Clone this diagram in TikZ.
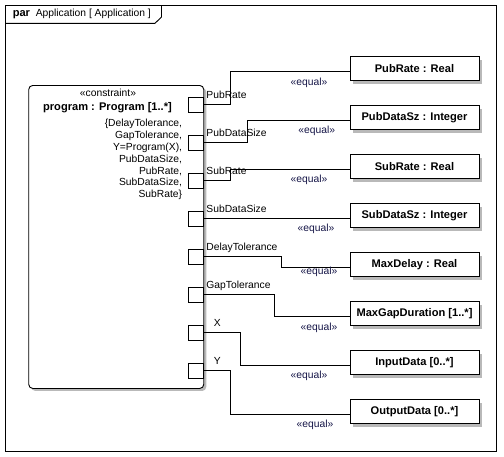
\documentclass[tikz,border=0pt]{standalone}
\usepackage{fontspec}
\setmainfont{Liberation Sans}
\usetikzlibrary{shadows}
\definecolor{eqnavy}{RGB}{20,20,70}
\newcommand{\boldtxt}{\fontsize{11.1}{12}\selectfont\bfseries}
\tikzset{
  cblock/.style={draw, fill=white, rounded corners=4pt, minimum width=175pt, minimum height=303pt, anchor=north west,
    drop shadow={shadow xshift=2.5pt, shadow yshift=-2.5pt, fill=gray!55, opacity=1}},
  port/.style={draw, fill=white, minimum width=15pt, minimum height=15pt, inner sep=0pt},
  plabel/.style={anchor=base west, inner sep=0pt},
  valbox/.style={draw, fill=white, minimum width=129pt, minimum height=24pt, inner sep=0pt, font=\boldtxt,
    drop shadow={shadow xshift=3pt, shadow yshift=-3pt, fill=gray!55, opacity=1}},
  eqlabel/.style={text=eqnavy, inner sep=0pt}
}
\begin{document}
\begin{tikzpicture}[x=1pt, y=-1pt, line width=0.9pt, font=\fontsize{10.3}{11.8}\selectfont]
    \useasboundingbox (0,0) rectangle (504,456);
    % frame
    \draw (5.3,5.3) rectangle (496,451);
    \draw (5.3,23.3) -- (155,23.3) -- (161.5,17) -- (161.5,5.3);
    \node[anchor=west] (title) at (9,14) {{\boldtxt par}\ \ Application [ Application ]};
    % constraint block
    \node[cblock] (prog) at (28.3,85) {};
    \node (stereo) at (108,93) {«constraint»};
    \node[font=\boldtxt] (pname) at (107.5,108) {program : Program [1..*]};
    \node[align=right, anchor=north east, inner sep=0pt] (expr) at (182.5,119) {\{DelayTolerance,\\GapTolerance,\\Y=Program(X),\\PubDataSize,\\PubRate,\\SubDataSize,\\SubRate\}};
    % ports
    \node[port] (p1) at (195.8,104.5) {};
    \node[port] (p2) at (195.8,142.5) {};
    \node[port] (p3) at (195.8,180.5) {};
    \node[port] (p4) at (195.8,218.5) {};
    \node[port] (p5) at (195.8,256.5) {};
    \node[port] (p6) at (195.8,294.5) {};
    \node[port] (p7) at (195.8,332.5) {};
    \node[port] (p8) at (195.8,370.5) {};
    \node[plabel] (l1) at (206,98.5) {PubRate};
    \node[plabel] (l2) at (206,136.5) {PubDataSize};
    \node[plabel] (l3) at (206,174.5) {SubRate};
    \node[plabel] (l4) at (206,212.5) {SubDataSize};
    \node[plabel] (l5) at (206,250.5) {DelayTolerance};
    \node[plabel] (l6) at (206,288.5) {GapTolerance};
    \node[plabel] (l7) at (213.5,326.5) {X};
    \node[plabel] (l8) at (213.5,364.5) {Y};
    % value properties
    \node[valbox] (v1) at (414.5,68.7) {PubRate : Real};
    \node[valbox] (v2) at (414.5,117.7) {PubDataSz : Integer};
    \node[valbox] (v3) at (414.5,166.7) {SubRate : Real};
    \node[valbox] (v4) at (414.5,215.7) {SubDataSz : Integer};
    \node[valbox] (v5) at (414.5,264.7) {MaxDelay : Real};
    \node[valbox] (v6) at (414.5,313.7) {MaxGapDuration [1..*]};
    \node[valbox] (v7) at (414.5,362.7) {InputData [0..*]};
    \node[valbox] (v8) at (414.5,411.7) {OutputData [0..*]};
    % binding connectors
    \draw (p1.east) -- ++(26.7,0) |- ([yshift=-2.5pt]v1.west);
    \draw (p2.east) -- ++(43.4,0) |- ([yshift=-2.5pt]v2.west);
    \draw (p3.east) -- ++(26.7,0) |- ([yshift=-2.5pt]v3.west);
    \draw (p4.east) -- (p4.east -| v4.west);
    \draw (p5.east) -- ++(77.7,0) |- ([yshift=-2.5pt]v5.west);
    \draw (p6.east) -- ++(71,0) |- ([yshift=-2.5pt]v6.west);
    \draw (p7.east) -- ++(36.7,0) |- ([yshift=-2.5pt]v7.west);
    \draw (p8.east) -- ++(26.7,0) |- ([yshift=-2.5pt]v8.west);
    \node[eqlabel] (e1) at (309,82.7) {«equal»};
    \node[eqlabel] (e2) at (316.7,131) {«equal»};
    \node[eqlabel] (e3) at (309,180) {«equal»};
    \node[eqlabel] (e4) at (316,229.3) {«equal»};
    \node[eqlabel] (e5) at (319,272.3) {«equal»};
    \node[eqlabel] (e6) at (319,327.7) {«equal»};
    \node[eqlabel] (e7) at (309,376) {«equal»};
    \node[eqlabel] (e8) at (315,425) {«equal»};
\end{tikzpicture}
\end{document}
